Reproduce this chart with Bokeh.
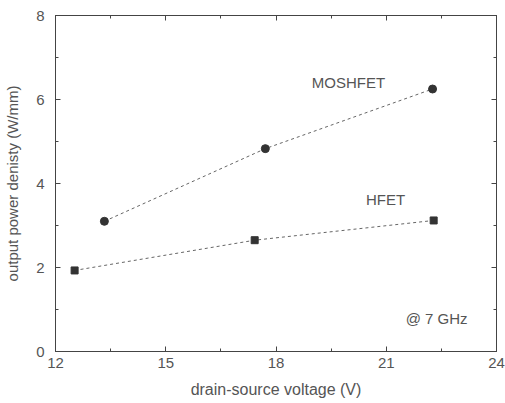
from bokeh.plotting import figure
from bokeh.models import LinearAxis, Range1d, FixedTicker, Label, CustomJSTickFormatter
from bokeh.embed import file_html
from bokeh.resources import INLINE

# data
mos_x = [13.33, 17.71, 22.26]
mos_y = [3.10, 4.83, 6.25]
hfet_x = [12.52, 17.42, 22.29]
hfet_y = [1.93, 2.65, 3.12]
x_ticks = [12, 15, 18, 21, 24]
y_ticks = [0, 2, 4, 6, 8]

FONT = "Liberation Sans"
TXT = "#555555"
AX = "#444444"

p = figure(width=505, height=403, output_backend="svg", toolbar_location=None,
           x_range=Range1d(12, 24), y_range=Range1d(0, 8),
           min_border_left=55, min_border_right=9, min_border_top=15, min_border_bottom=52)
p.outline_line_color = AX
p.outline_line_width = 1
p.grid.visible = False
p.background_fill_color = "white"
p.border_fill_color = "white"

def style(ax, ticks, labels=True):
    ax.ticker = FixedTicker(ticks=ticks, minor_ticks=[t + (ticks[1]-ticks[0])/2 for t in ticks[:-1]])
    ax.major_tick_in = 5
    ax.major_tick_out = 0
    ax.minor_tick_in = 3
    ax.minor_tick_out = 0
    ax.axis_line_color = AX
    ax.major_tick_line_color = AX
    ax.minor_tick_line_color = AX
    ax.major_label_text_font = FONT
    ax.major_label_text_color = TXT
    ax.axis_label_text_font = FONT
    ax.axis_label_text_color = TXT
    ax.axis_label_text_font_style = "normal"
    if not labels:
        ax.formatter = CustomJSTickFormatter(code="return ''")
        ax.major_label_standoff = 0

style(p.xaxis[0], x_ticks)
style(p.yaxis[0], y_ticks)
p.xaxis[0].major_label_text_font_size = "15px"
p.yaxis[0].major_label_text_font_size = "15px"
p.xaxis[0].major_label_standoff = 6
p.yaxis[0].major_label_standoff = 11
p.xaxis[0].axis_label = "drain-source voltage (V)"
p.yaxis[0].axis_label = "output power denisty (W/mm)"
p.xaxis[0].axis_label_text_font_size = "16px"
p.yaxis[0].axis_label_text_font_size = "15px"
p.xaxis[0].axis_label_standoff = 10
p.yaxis[0].axis_label_standoff = 12

ra = LinearAxis()
style(ra, y_ticks, labels=False)
p.add_layout(ra, "right")
ta = LinearAxis()
style(ta, x_ticks, labels=False)
p.add_layout(ta, "above")

p.line(mos_x, mos_y, line_color="#666666", line_width=1, line_dash="3 3")
p.line(hfet_x, hfet_y, line_color="#666666", line_width=1, line_dash="3 3")
p.scatter(mos_x, mos_y, marker="circle", size=8, fill_color="#333333", line_color="#333333")
p.scatter(hfet_x, hfet_y, marker="square", size=7, fill_color="#333333", line_color="#333333")

for txt, x, y in [("MOSHFET", 19.97, 6.40), ("HFET", 20.98, 3.63), ("@ 7 GHz", 22.37, 0.79)]:
    p.add_layout(Label(x=x, y=y, text=txt, text_font=FONT, text_font_size="15px",
                       text_color=TXT, text_align="center", text_baseline="middle"))

open("out.html", "w").write(file_html(p, INLINE))
